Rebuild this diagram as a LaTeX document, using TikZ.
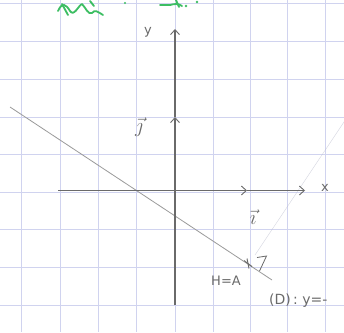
\documentclass[tikz,border=0pt]{standalone}
\usepackage{fontspec}
\setmainfont{DejaVu Sans}
\usetikzlibrary{arrows.meta,calc}
\definecolor{gridc}{HTML}{D0D3EF}
\definecolor{pencil}{HTML}{6A6A6A}
\definecolor{lightpencil}{HTML}{9A9A9A}
\definecolor{greenink}{HTML}{3DBE63}
\tikzset{
  gridline/.style={gridc, line width=0.6pt},
  axisline/.style={pencil, line width=1.3pt},
  chev/.style={-{Straight Barb[length=5pt,width=9pt,line width=0.9pt]}},
  dline/.style={lightpencil, line width=0.8pt},
  faint/.style={gridc!60!lightpencil, line width=0.4pt, opacity=0.6},
  hand/.style={pencil, font=\fontsize{13}{13}\selectfont, inner sep=0pt},
  vecl/.style={pencil, font=\fontsize{20}{20}\selectfont, inner sep=0pt},
  green/.style={greenink, line width=1.8pt, line cap=round, line join=round}
}
\begin{document}
\begin{tikzpicture}[x=1pt,y=-1pt]
\useasboundingbox (0,0) rectangle (344,332);
\fill[white] (0,0) rectangle (344,332);
% grid
\foreach \gx in {21.7,60,98.3,136.7,175,213,250,287.5,325.5}
  \draw[gridline] (\gx,0) -- (\gx,332);
\foreach \gy in {3,41.5,79.3,117,154.5,191.8,229.3,267,305}
  \draw[gridline] (0,\gy) -- (344,\gy);
% green scribbles
\draw[green] (58,11) .. controls (62,2) and (66,4) .. (70,11) .. controls (74,17) and (78,6) .. (82,4)
  .. controls (86,8) and (88,15) .. (92,13) .. controls (95,9) and (98,12) .. (103,15);
\draw[green] (62,4) -- (68,15);
\draw[green] (90,1) -- (94,6);
\draw[green] (160,5) -- (170,5) .. controls (174,4) and (178,3) .. (182,6);
\draw[green] (176,0) -- (179,7);
\fill[greenink] (186,6) circle (1.4) (197,2) circle (1.4) (125,3) circle (1.1);
% coordinates
\coordinate (xl) at (58,190.5);
\coordinate (xi) at (247,190.5);
\coordinate (xr) at (305,190.5);
\coordinate (yb) at (175,305);
\coordinate (yj) at (175,117);
\coordinate (yt) at (175,29);
\coordinate (d1) at (10,107);
\coordinate (d2) at (272,280);
\coordinate (H) at (248,263.5);
\coordinate (f1) at (255,255);
\coordinate (f2) at (350,113);
% faint perpendicular line
\draw[faint] (f1) -- (f2);
% line D
\draw[dline] (d1) -- (d2);
% axes
\draw[axisline, chev] (yb) -- (yj);
\draw[axisline, chev] (yj) -- (yt);
\draw[axisline, chev] (xl) -- (xi);
\draw[axisline, chev] (xi) -- (xr);
% point H
\draw[pencil, line width=0.9pt] ($(H)+(-4,-3)$) -- ($(H)+(4,3)$);
\draw[pencil, line width=0.9pt] ($(H)+(-1,-5)$) -- ($(H)+(1,5)$);
% right angle mark
\coordinate (r1) at (257,257.5);
\coordinate (r2) at (266.5,256);
\coordinate (r3) at (259.5,271);
\draw[pencil, line width=0.8pt] (r1) -- (r2) -- (r3);
% labels
\node[hand, anchor=center] (ly) at (148,32) {y};
\node[hand, anchor=center] (lx) at (325,188) {x};
\node[vecl, anchor=center] (lj) at (139,127) {$\vec{\jmath}$};
\node[vecl, anchor=center] (li) at (253,217) {$\vec{\imath}$};
\node[hand, anchor=center] (lH) at (226,281) {H=A};
\node[hand, anchor=west, font=\fontsize{14}{14}\selectfont] (lD) at (269,301) {(D)\,: y=-};
\end{tikzpicture}
\end{document}
